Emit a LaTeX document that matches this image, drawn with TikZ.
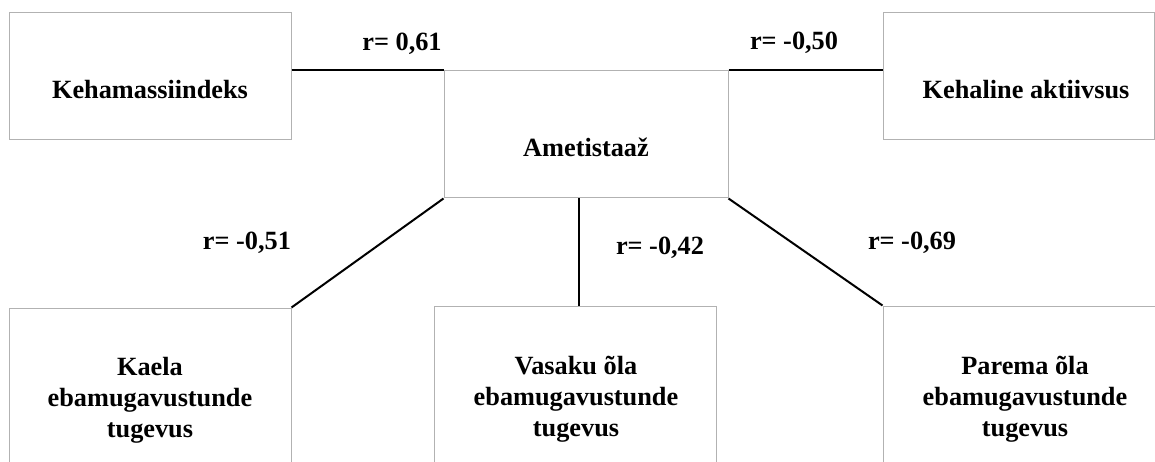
\documentclass[tikz,border=0pt]{standalone}
\usepackage{fontspec}
\setmainfont{Liberation Serif}
\usetikzlibrary{calc}
\begin{document}
\begin{tikzpicture}[x=1pt,y=-1pt,
  box/.style={draw=black!30,line width=1pt,rectangle,inner sep=0pt},
  lbl/.style={font=\fontsize{26.3}{31}\selectfont\bfseries,align=center,inner sep=0pt},
  conn/.style={draw=black,line width=2pt}]
\useasboundingbox[fill=white] (0,0) rectangle (1155,462);
\clip (0,0) rectangle (1155,462);
% boxes
\node[box,minimum width=282pt,minimum height=127pt] (kmi) at (150,76.5) {};
\node[box,minimum width=284pt,minimum height=127pt] (ame) at (586,134.5) {};
\node[box,minimum width=271pt,minimum height=127pt] (ka) at (1018.5,76.5) {};
\node[box,minimum width=282pt,minimum height=170pt] (kae) at (150,393) {};
\node[box,minimum width=282pt,minimum height=170pt] (vas) at (575,391) {};
\node[box,minimum width=284pt,minimum height=170pt] (par) at (1025,391) {};
% texts
\node[lbl] (tkmi) at (150,90) {Kehamassiindeks};
\node[lbl] (tame) at (586,147) {Ametistaaž};
\node[lbl] (tka) at (1026,90) {Kehaline aktiivsus};
\node[lbl] (tkae) at (150,400) {Kaela\\ebamugavustunde\\tugevus};
\node[lbl] (tvas) at (576,399) {Vasaku õla\\ebamugavustunde\\tugevus};
\node[lbl] (tpar) at (1025,399) {Parema õla\\ebamugavustunde\\tugevus};
% connectors
\draw[conn] (kmi.east |- ame.north) -- (ame.north west);
\draw[conn] (ame.north east) -- (ka.west |- ame.north);
\draw[conn] (ame.south west) -- (kae.north east);
\coordinate (vtop) at ([xshift=4pt]vas.north);
\draw[conn] (vtop |- ame.south) -- (vtop);
\draw[conn] (ame.south east) -- (par.north west);
% correlation labels
\node[lbl] (r1) at (402,44) {r= 0,61};
\node[lbl] (r2) at (794,43) {r= -0,50};
\node[lbl] (r3) at (247,243) {r= -0,51};
\node[lbl] (r4) at (660,248) {r= -0,42};
\node[lbl] (r5) at (912,243) {r= -0,69};
\end{tikzpicture}
\end{document}
